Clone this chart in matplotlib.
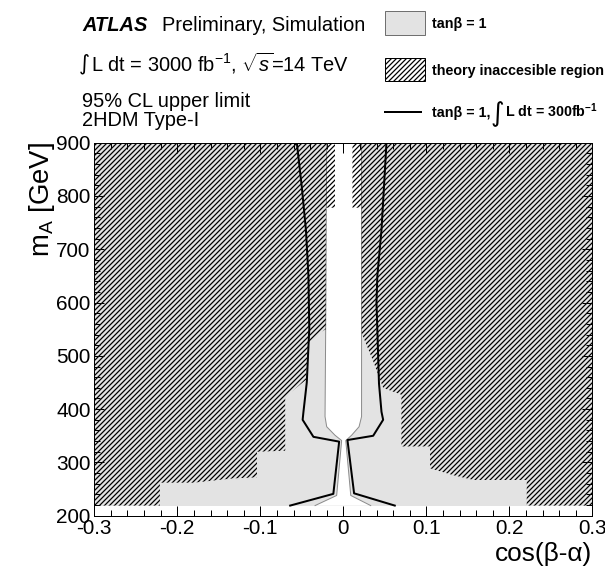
import matplotlib
matplotlib.use('Agg')
import matplotlib.pyplot as plt
from matplotlib.patches import Rectangle
from matplotlib.lines import Line2D
from matplotlib.ticker import MultipleLocator

plt.rcParams['font.family'] = ['Liberation Sans', 'DejaVu Sans']
plt.rcParams['mathtext.fontset'] = 'custom'
plt.rcParams['mathtext.rm'] = 'Liberation Sans'
plt.rcParams['mathtext.it'] = 'Liberation Sans:italic'
plt.rcParams['mathtext.bf'] = 'Liberation Sans:bold'
plt.rcParams['axes.unicode_minus'] = False
plt.rcParams['hatch.linewidth'] = 1.0

# scan range of the limit
scan_cos = [-0.3, 0.3]
scan_mA = [219, 900]

# edge of the allowed (white) band, tan(beta) = 1, 3000 fb-1
allowed_mA = [219, 238, 341, 351, 367, 386, 600, 900]
allowed_lo = [-0.034, -0.008, -0.002, -0.010, -0.020, -0.022, -0.021, -0.020]
allowed_hi = [0.033, 0.009, 0.003, 0.010, 0.019, 0.022, 0.022, 0.022]

# tan(beta) = 1, 300 fb-1 contour
c300_lo_mA = [219, 241, 339, 348, 380, 395, 450, 550, 650, 736, 817, 900]
c300_lo = [-0.064, -0.012, -0.005, -0.036, -0.049, -0.048, -0.044, -0.041, -0.042, -0.045, -0.050, -0.056]
c300_hi_mA = [219, 242, 342, 350, 380, 395, 448, 600, 650, 736, 817, 900]
c300_hi = [0.062, 0.013, 0.005, 0.036, 0.048, 0.046, 0.043, 0.040, 0.041, 0.046, 0.049, 0.052]

# inner edge of the theory inaccessible region
theory_lo_mA = [219, 262, 262, 270, 272, 320, 322, 423, 455, 524, 542, 550, 778, 778, 900]
theory_lo = [-0.221, -0.221, -0.180, -0.133, -0.104, -0.104, -0.070, -0.070, -0.045, -0.042, -0.030,
             -0.021, -0.021, -0.010, -0.010]
theory_hi_mA = [219, 267, 267, 276, 289, 330, 330, 427, 440, 490, 543, 778, 778, 900]
theory_hi = [0.221, 0.221, 0.157, 0.1325, 0.1045, 0.1045, 0.070, 0.070, 0.048, 0.036, 0.022,
             0.022, 0.011, 0.011]

x_ticks = [-0.3, -0.2, -0.1, 0, 0.1, 0.2, 0.3]
x_ticklabels = ['-0.3', '-0.2', '-0.1', '0', '0.1', '0.2', '0.3']
y_ticks = [200, 300, 400, 500, 600, 700, 800, 900]

grey = '#e3e3e3'
grey_edge = '#8c8c8c'
hatch = '//////'

W, H, DPI = 605, 575, 90
fx = lambda px: px / W
fy = lambda py: 1 - py / H

fig = plt.figure(figsize=(W / DPI, H / DPI), dpi=DPI, facecolor='w')
ax = fig.add_axes([fx(94.3), fy(515.7), 498 / W, 373 / H])

ax.fill_between(scan_cos, scan_mA[0], scan_mA[1], color=grey, lw=0, zorder=1)
ax.fill(allowed_lo + allowed_hi[::-1], allowed_mA + allowed_mA[::-1], color='white', lw=0, zorder=2)
ax.plot(allowed_lo, allowed_mA, color=grey_edge, lw=0.8, zorder=3)
ax.plot(allowed_hi, allowed_mA, color=grey_edge, lw=0.8, zorder=3)

for xs, ms, side in ((theory_lo, theory_lo_mA, scan_cos[0]), (theory_hi, theory_hi_mA, scan_cos[1])):
    ax.fill([side] + xs + [side], [scan_mA[0]] + ms + [scan_mA[1]],
            facecolor='none', edgecolor='black', hatch=hatch, lw=0, zorder=4)

ax.plot(c300_lo, c300_lo_mA, color='black', lw=1.6, zorder=5)
ax.plot(c300_hi, c300_hi_mA, color='black', lw=1.6, zorder=5)

ax.set_xlim(-0.3, 0.3)
ax.set_ylim(200, 900)
ax.set_xticks(x_ticks)
ax.set_xticklabels(x_ticklabels)
ax.set_yticks(y_ticks)
ax.xaxis.set_minor_locator(MultipleLocator(0.02))
ax.yaxis.set_minor_locator(MultipleLocator(20))
ax.set_axisbelow(False)
ax.tick_params(which='both', direction='in', top=True, right=True, width=0.8, labelsize=16.6)
ax.tick_params(which='major', length=8)
ax.tick_params(which='minor', length=4.8)
ax.tick_params(axis='x', pad=2.4)
ax.tick_params(axis='y', pad=3)
for s in ax.spines.values():
    s.set_linewidth(0.8)

fig.text(fx(42), fy(142), r'm$_\mathrm{A}$ [GeV]', rotation=90, ha='center', va='top', fontsize=22)
fig.text(fx(592), fy(554), 'cos(β-α)', ha='right', va='center', fontsize=21)

# header
fig.text(fx(82), fy(31), 'ATLAS', fontsize=16, fontweight='bold', style='italic', va='baseline')
fig.text(fx(162), fy(31), 'Preliminary, Simulation', fontsize=16, va='baseline')
fig.text(fx(79), fy(69), '∫', family='DejaVu Sans', fontsize=17, va='baseline')
fig.text(fx(91), fy(71), r'L dt = 3000 fb$^{-1}$, $\sqrt{s}$=14 TeV', fontsize=16, va='baseline')
fig.text(fx(82), fy(107), '95% CL upper limit', fontsize=16, va='baseline')
fig.text(fx(82), fy(125.5), '2HDM Type-I', fontsize=16, va='baseline')

# legend
fig.add_artist(Rectangle((fx(385), fy(35)), 40 / W, 24 / H, transform=fig.transFigure,
                         facecolor=grey, edgecolor='#707070', lw=0.8))
fig.add_artist(Rectangle((fx(385), fy(81)), 40 / W, 23 / H, transform=fig.transFigure,
                         facecolor='white', edgecolor='black', hatch=hatch, lw=0.8))
fig.add_artist(Line2D([fx(385), fx(421)], [fy(112), fy(112)], transform=fig.transFigure,
                      color='black', lw=1.6))
fig.text(fx(432), fy(28), 'tanβ = 1', fontsize=11.4, fontweight='bold', va='baseline')
fig.text(fx(432), fy(74.5), 'theory inaccesible region', fontsize=11.4, fontweight='bold', va='baseline')
fig.text(fx(432), fy(117), 'tanβ = 1,', fontsize=11.4, fontweight='bold', va='baseline')
fig.text(fx(497), fy(114), '∫', family='DejaVu Sans', fontsize=21, va='center', ha='center')
fig.text(fx(505), fy(117), r'L dt = 300fb$^{\mathbf{-1}}$', fontsize=11.4, fontweight='bold', va='baseline')

fig.savefig('out.png', dpi=DPI, facecolor='w')
